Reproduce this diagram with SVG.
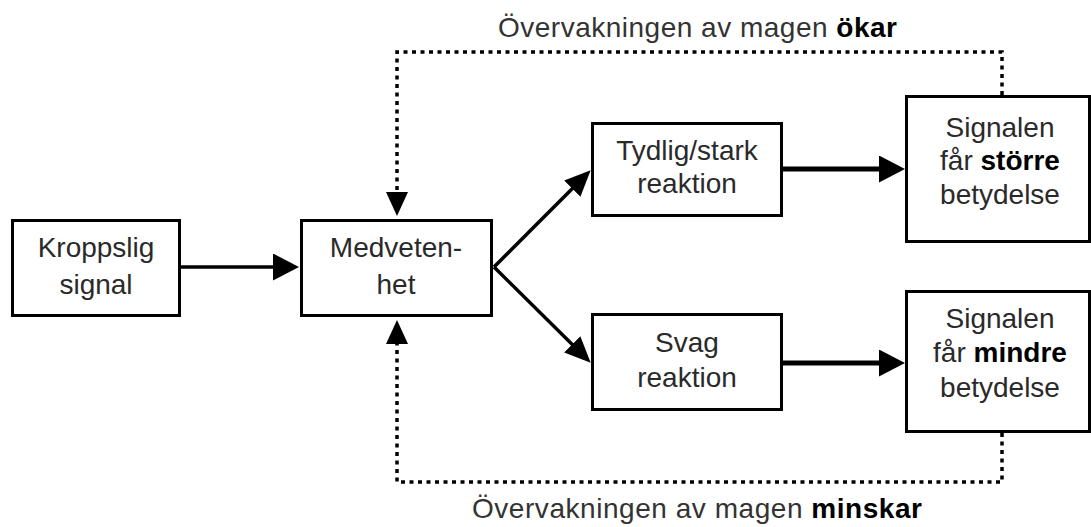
<svg xmlns="http://www.w3.org/2000/svg" width="1091" height="527" viewBox="0 0 1091 527">
<style>
.box{fill:#fff;stroke:#000;stroke-width:3}
.t{font-family:"Liberation Sans",Arial,sans-serif;font-size:28px;fill:#2a2a2a;text-anchor:middle}
.lbl{font-family:"Liberation Sans",Arial,sans-serif;font-size:28px;fill:#333;text-anchor:middle}
.b{font-weight:bold;fill:#000}
.solid{fill:none;stroke:#000;stroke-width:3.5}
.thick{fill:none;stroke:#000;stroke-width:5}
.dot{fill:none;stroke:#000;stroke-width:3.5;stroke-dasharray:4 4.5}
</style>
<defs>
<marker id="head" markerUnits="userSpaceOnUse" markerWidth="27" markerHeight="27" refX="16" refY="13.5" orient="auto"><path d="M0,0 L26,13.5 L0,27 Z" fill="#000"/></marker>
<marker id="headD" markerUnits="userSpaceOnUse" markerWidth="27" markerHeight="24" refX="15" refY="11.5" orient="auto"><path d="M0,0 L26,11.5 L0,23 Z" fill="#000"/></marker>
<marker id="headS" markerUnits="userSpaceOnUse" markerWidth="25" markerHeight="23" refX="14" refY="11" orient="auto"><path d="M0,0 L24,11 L0,22 Z" fill="#000"/></marker>
</defs>
<rect width="1091" height="527" fill="#fff"/>
<g id="connectors">
<line class="solid" x1="181" y1="267" x2="289" y2="267" marker-end="url(#head)"/>
<line class="solid" x1="494" y1="267" x2="582.9" y2="178.1" marker-end="url(#headD)"/>
<line class="solid" x1="494" y1="267" x2="582.9" y2="355" marker-end="url(#headD)"/>
<line class="thick" x1="783" y1="169" x2="895" y2="169" marker-end="url(#head)"/>
<line class="thick" x1="783" y1="363" x2="895" y2="363" marker-end="url(#head)"/>
<path class="dot" d="M1002,95 L1002,52 L397,52 L397,206" marker-end="url(#headS)"/>
<path class="dot" d="M1002,433 L1002,482 L397,482 L397,330" marker-end="url(#headS)"/>
</g>
<g id="kroppslig">
<rect class="box" x="12.5" y="220.5" width="167" height="95"/>
<text class="t" x="96" y="257">Kroppslig</text>
<text class="t" x="96" y="294">signal</text>
</g>
<g id="medvetenhet">
<rect class="box" x="301.5" y="220.5" width="190" height="95"/>
<text class="t" x="396" y="257">Medveten-</text>
<text class="t" x="396" y="294">het</text>
</g>
<g id="tydlig">
<rect class="box" x="592.5" y="123.5" width="189" height="92"/>
<text class="t" x="687" y="160">Tydlig/stark</text>
<text class="t" x="687" y="193">reaktion</text>
</g>
<g id="svag">
<rect class="box" x="592.5" y="314.5" width="189" height="95"/>
<text class="t" x="687" y="352">Svag</text>
<text class="t" x="687" y="387">reaktion</text>
</g>
<g id="storre">
<rect class="box" x="906.5" y="96.5" width="183" height="145"/>
<text class="t" x="1000" y="137">Signalen</text>
<text class="t" x="1000" y="170">får <tspan class="b">större</tspan></text>
<text class="t" x="1000" y="204">betydelse</text>
</g>
<g id="mindre">
<rect class="box" x="906.5" y="291.5" width="183" height="140"/>
<text class="t" x="1000" y="328">Signalen</text>
<text class="t" x="1000" y="362">får <tspan class="b">mindre</tspan></text>
<text class="t" x="1000" y="397">betydelse</text>
</g>
<g id="label-okar">
<text class="lbl" x="697.5" y="37" textLength="399" lengthAdjust="spacing">Övervakningen av magen <tspan class="b">ökar</tspan></text>
</g>
<g id="label-minskar">
<text class="lbl" x="697" y="518" textLength="450" lengthAdjust="spacing">Övervakningen av magen <tspan class="b">minskar</tspan></text>
</g>
</svg>
